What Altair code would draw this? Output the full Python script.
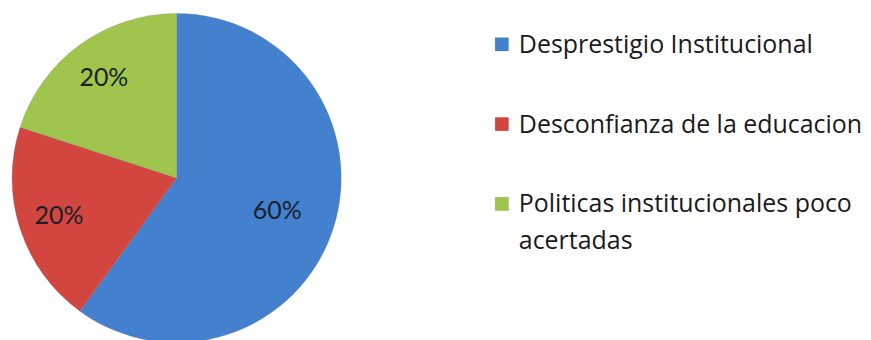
import altair as alt
import pandas as pd

categories = ["Desprestigio Institucional", "Desconfianza de la educacion", "Politicas institucionales poco acertadas"]
legend_labels = ["Desprestigio Institucional", "Desconfianza de la educacion", "Politicas institucionales poco\nacertadas"]
values = [60, 20, 20]
pct_labels = ["60%", "20%", "20%"]
colors = ["#4380ce", "#d3463f", "#a0c54c"]

df = pd.DataFrame({
    "cat": categories,
    "legend": legend_labels,
    "value": values,
    "pct": pct_labels,
    "order": [0, 1, 2],
})

color = alt.Color("cat:N", scale=alt.Scale(domain=categories, range=colors), legend=None)

base = alt.Chart(df).encode(
    theta=alt.Theta("value:Q", stack=True),
    order=alt.Order("order:Q"),
)

arcs = base.mark_arc(outerRadius=165, stroke="#5a6a7a", strokeWidth=0.4, strokeOpacity=0.5).encode(color=color)
texts = base.mark_text(font="Lato", fontSize=25, color="#1a1f2a",
                       radius=alt.ExprRef("datum.value > 50 ? 106 : 124")).encode(
    text="pct:N",
)

pie = alt.layer(arcs, texts).properties(width=338, height=340)

ybase = alt.Chart(df).encode(
    y=alt.Y("cat:N", sort=categories,
            scale=alt.Scale(type="point", domain=categories, range=[36, 196], padding=0),
            axis=None)
)
squares = ybase.mark_square(size=180, opacity=1, stroke="#00000033", strokeWidth=0.5).encode(
    x=alt.value(17), color=color)
ltext = ybase.mark_text(align="left", baseline="alphabetic", dy=8.5, font="Open Sans", fontSize=25,
                        color="#1a1a1a", lineBreak="\n", lineHeight=37).encode(
    x=alt.value(34), text="legend:N")
legend = alt.layer(squares, ltext).properties(width=370, height=340)

chart = alt.hconcat(pie, legend, spacing=140).properties(padding=0).configure_view(stroke=None)

chart.save("out.html", embed_options={"renderer": "svg", "actions": False})
